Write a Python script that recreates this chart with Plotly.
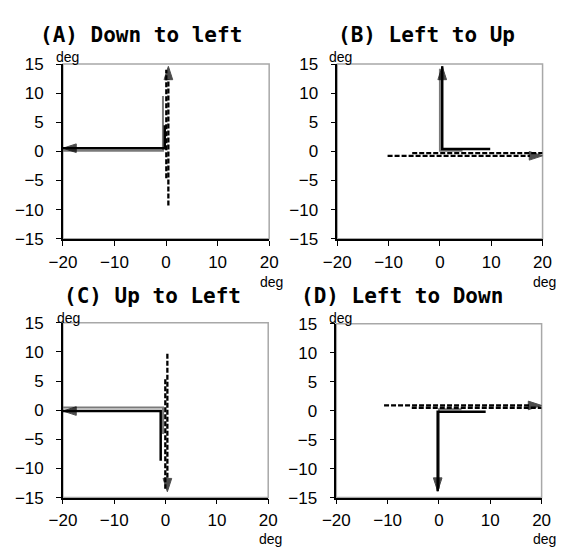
import plotly.graph_objects as go

W, H = 565, 551

# ---------------- data (deg) ----------------
# Panel A: Down to left
a_gray_x = [-0.6, -0.6, -20]
a_gray_y = [9.5, 0.1, 0.1]
a_black_x = [-0.25, -0.25, -20]
a_black_y = [4.5, 0.55, 0.55]
a_dash1_x = [0.45, 0.45]
a_dash1_y = [-9.3, 14.6]
a_dash2_x = [0.05, 0.05]
a_dash2_y = [-4.6, 14.0]

# Panel B: Left to Up
b_gray_x = [4.4, 0.0, 0.0]
b_gray_y = [0.1, 0.1, 14.2]
b_black_x = [9.8, 0.45, 0.45]
b_black_y = [0.4, 0.4, 14.6]
b_dash1_x = [-10.2, 20]
b_dash1_y = [-0.75, -0.75]
b_dash2_x = [-5.4, 20]
b_dash2_y = [-0.3, -0.3]

# Panel C: Up to Left
c_gray_x = [-0.5, -0.5, -20]
c_gray_y = [-4.1, 0.45, 0.45]
c_black_x = [-0.95, -0.95, -20]
c_black_y = [-8.7, -0.15, -0.15]
c_dash1_x = [0.35, 0.35]
c_dash1_y = [9.7, -14.0]
c_dash2_x = [-0.05, -0.05]
c_dash2_y = [5.3, -13.5]

# Panel D: Left to Down
d_gray_x = [4.4, 0.0, 0.0]
d_gray_y = [0.25, 0.25, -13.5]
d_black_x = [9.1, -0.25, -0.25]
d_black_y = [-0.2, -0.2, -13.9]
d_dash1_x = [-10.7, 20]
d_dash1_y = [0.9, 0.9]
d_dash2_x = [-5.3, 20]
d_dash2_y = [0.5, 0.5]

titles = ["(A) Down to left", "(B) Left to Up", "(C) Up to Left", "(D) Left to Down"]
x_ticks = [-20, -10, 0, 10, 20]
y_ticks = [-15, -10, -5, 0, 5, 10, 15]

panels = [
    (a_gray_x, a_gray_y, a_black_x, a_black_y, a_dash1_x, a_dash1_y, a_dash2_x, a_dash2_y),
    (b_gray_x, b_gray_y, b_black_x, b_black_y, b_dash1_x, b_dash1_y, b_dash2_x, b_dash2_y),
    (c_gray_x, c_gray_y, c_black_x, c_black_y, c_dash1_x, c_dash1_y, c_dash2_x, c_dash2_y),
    (d_gray_x, d_gray_y, d_black_x, d_black_y, d_dash1_x, d_dash1_y, d_dash2_x, d_dash2_y),
]

# ---------------- layout geometry (pixels) ----------------
plot_boxes = [  # x0, x1, ytop, ybottom in px
    (51, 266, 57, 238),
    (337, 551, 57, 238),
    (51, 265, 325, 506),
    (336, 550, 326, 506),
]
title_pos = [(132, 27), (430, 27), (144, 297), (404, 297)]
deg_y_pos = [(56, 50), (340, 50), (57, 320), (340, 320)]
deg_x_pos = [(268, 283), (553, 283), (267, 549), (553, 549)]
x_standoff = [2, 2, 1, 1]


def px(x):
    return x / W


def py(y):
    return 1 - y / H


fig = go.Figure()
axis_font = dict(family="Liberation Sans, Arial, sans-serif", size=17, color="black")
deg_font = dict(family="Liberation Sans, Arial, sans-serif", size=14, color="black")


def arrow_marker(n):
    sizes = [0] * (n - 1) + [14]
    return dict(symbol="arrow", size=sizes, angleref="previous", color="black",
                line=dict(width=1, color="black"))


for i, (gx, gy, bx, by, d1x, d1y, d2x, d2y) in enumerate(panels):
    xa = "x" if i == 0 else f"x{i+1}"
    ya = "y" if i == 0 else f"y{i+1}"
    fig.add_trace(go.Scatter(x=gx, y=gy, mode="lines", xaxis=xa, yaxis=ya,
                             line=dict(color="#7a7a7a", width=2), showlegend=False,
                             hoverinfo="skip"))
    fig.add_trace(go.Scatter(x=bx, y=by, mode="lines+markers", xaxis=xa, yaxis=ya,
                             line=dict(color="black", width=2.5),
                             marker=arrow_marker(len(bx)), showlegend=False,
                             hoverinfo="skip"))
    fig.add_trace(go.Scatter(x=d2x, y=d2y, mode="lines", xaxis=xa, yaxis=ya,
                             line=dict(color="black", width=2.3, dash="5px,2px"),
                             showlegend=False, hoverinfo="skip"))
    fig.add_trace(go.Scatter(x=d1x, y=d1y, mode="lines+markers", xaxis=xa, yaxis=ya,
                             line=dict(color="black", width=2.3, dash="5px,2px"),
                             marker=arrow_marker(len(d1x)), showlegend=False,
                             hoverinfo="skip"))

    x0, x1, yt, yb = plot_boxes[i]
    xkey = "xaxis" if i == 0 else f"xaxis{i+1}"
    ykey = "yaxis" if i == 0 else f"yaxis{i+1}"
    fig.update_layout(**{
        xkey: dict(domain=[px(x0), px(x1)], range=[-20, 20], tickvals=x_ticks,
                   showline=True, linecolor="black", linewidth=1.5, ticks="outside",
                   ticklen=5, tickwidth=1.2, tickcolor="black", showgrid=False,
                   zeroline=False, tickfont=axis_font, anchor=ya,
                   ticklabelstandoff=x_standoff[i], fixedrange=True),
        ykey: dict(domain=[py(yb), py(yt)], range=[-15, 15], tickvals=y_ticks,
                   showline=True, linecolor="black", linewidth=1.5, ticks="outside",
                   ticklen=5, tickwidth=1.2, tickcolor="black", showgrid=False,
                   zeroline=False, tickfont=axis_font, anchor=xa,
                   ticklabelstandoff=9, fixedrange=True),
    })
    # gray plot-area frame (top and right)
    fig.add_shape(type="rect", xref=f"{xa} domain", yref=f"{ya} domain",
                  x0=0, x1=1, y0=0, y1=1, line=dict(color="#a8a8a8", width=1.5),
                  layer="below")
    tx, ty = title_pos[i]
    fig.add_annotation(text=f"<b>{titles[i]}</b>", x=px(tx), y=py(ty), xref="paper",
                       yref="paper", showarrow=False, xanchor="center", yanchor="middle",
                       font=dict(family="DejaVu Sans Mono", size=21, color="black"))
    dx, dy = deg_y_pos[i]
    fig.add_annotation(text="deg", x=px(dx), y=py(dy), xref="paper", yref="paper",
                       showarrow=False, xanchor="center", yanchor="middle",
                       font=deg_font)
    dx, dy = deg_x_pos[i]
    fig.add_annotation(text="deg", x=px(dx), y=py(dy), xref="paper", yref="paper",
                       showarrow=False, xanchor="center", yanchor="middle",
                       font=deg_font)

fig.update_layout(width=W, height=H, margin=dict(l=0, r=0, t=0, b=0),
                  paper_bgcolor="white", plot_bgcolor="white")

fig.write_html("out.html")
